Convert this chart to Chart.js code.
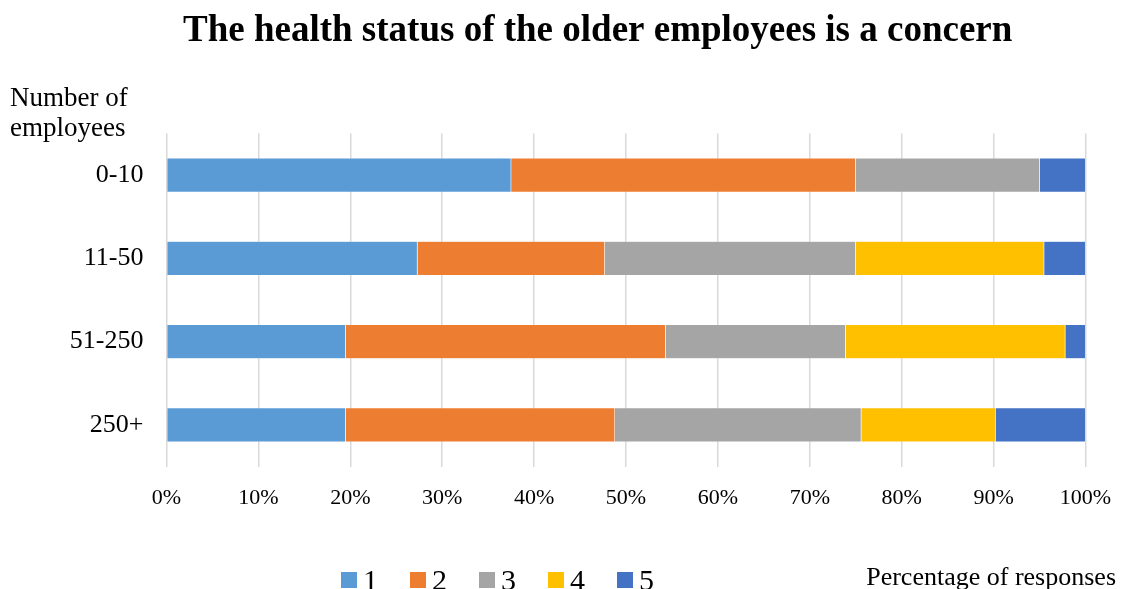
<!DOCTYPE html>
<html>
<head>
<meta charset="utf-8">
<title>The health status of the older employees is a concern</title>
<script src="https://cdn.jsdelivr.net/npm/chart.js@4/dist/chart.umd.min.js"></script>
<style>
  html, body { margin: 0; padding: 0; background: #fff; }
  #wrap { position: relative; width: 1123px; height: 589px; overflow: hidden; }
</style>
</head>
<body>
<div id="wrap"><canvas id="chart" width="1123" height="589"></canvas></div>
<script>
// chart values (percent of responses)
const categories = ["0-10", "11-50", "51-250", "250+"];
const seriesNames = ["1", "2", "3", "4", "5"];
const seriesColors = ["#5B9BD5", "#ED7D31", "#A5A5A5", "#FFC000", "#4472C4"];
const series1 = [37.5, 27.3, 19.5, 19.5];
const series2 = [37.5, 20.4, 34.8, 29.3];
const series3 = [20.0, 27.3, 19.6, 26.8];
const series4 = [0.0, 20.5, 23.9, 14.6];
const series5 = [5.0, 4.5, 2.2, 9.8];
const xTicks = [0, 10, 20, 30, 40, 50, 60, 70, 80, 90, 100];

const titleText = "The health status of the older employees is a concern";
const yTitleLines = ["Number of", "employees"];
const xTitleText = "Percentage of responses";

const SERIF = "'Liberation Serif', 'Times New Roman', serif";

const datasets = [series1, series2, series3, series4, series5].map((vals, i) => ({
  label: seriesNames[i],
  data: vals,
  backgroundColor: seriesColors[i],
  borderColor: "rgba(255,255,255,0.6)",
  borderWidth: 0.5,
  barPercentage: 0.41,
  categoryPercentage: 1.0,
}));

// title, axis titles and legend are drawn here so they sit where the reference puts them
const decorations = {
  id: "decorations",
  afterDraw(chart) {
    const ctx = chart.ctx;
    ctx.save();
    ctx.fillStyle = "#000";

    ctx.font = "bold 37px " + SERIF;
    ctx.textAlign = "left";
    ctx.textBaseline = "alphabetic";
    ctx.fillText(titleText, 183, 41);

    ctx.font = "27px " + SERIF;
    ctx.fillText(yTitleLines[0], 10, 106);
    ctx.fillText(yTitleLines[1], 10, 136);

    ctx.font = "26px " + SERIF;
    ctx.textAlign = "right";
    ctx.fillText(xTitleText, 1116, 585);

    // legend
    const startX = 341, step = 69, cy = 580, box = 16;
    ctx.textAlign = "left";
    ctx.textBaseline = "middle";
    ctx.font = "30px " + SERIF;
    chart.data.datasets.forEach((ds, i) => {
      const x = startX + i * step;
      ctx.fillStyle = ds.backgroundColor;
      ctx.fillRect(x, cy - box / 2, box, box);
      ctx.fillStyle = "#000";
      ctx.fillText(ds.label, x + box + 6, cy + 2);
    });
    ctx.restore();
  },
};

new Chart(document.getElementById("chart"), {
  type: "bar",
  data: { labels: categories, datasets },
  options: {
    indexAxis: "y",
    responsive: false,
    animation: false,
    devicePixelRatio: 1,
    layout: { padding: { left: 0, right: 37.5, top: 133.4, bottom: 82.4 } },
    plugins: {
      legend: { display: false },
      title: { display: false },
      tooltip: { enabled: false },
    },
    scales: {
      x: {
        stacked: true,
        min: 0,
        max: 100,
        afterBuildTicks(scale) {
          scale.ticks = xTicks.map((v) => ({ value: v }));
        },
        afterFit(scale) {
          scale.height = 40;
          scale.paddingLeft = 0;
          scale.paddingRight = 0;
        },
        ticks: {
          callback: (v) => v + "%",
          color: "#000",
          font: { family: SERIF, size: 22 },
          padding: 18,
          maxRotation: 0,
        },
        grid: { color: "#d9d9d9", lineWidth: 1.5, drawTicks: false },
        border: { display: false },
      },
      y: {
        stacked: true,
        afterFit(scale) {
          scale.width = 166.5;
          scale.paddingTop = 0;
          scale.paddingBottom = 0;
        },
        ticks: {
          color: "#000",
          font: { family: SERIF, size: 26 },
          padding: 23,
        },
        grid: { display: false, drawTicks: false },
        border: { display: false },
      },
    },
  },
  plugins: [decorations],
});
</script>
</body>
</html>
